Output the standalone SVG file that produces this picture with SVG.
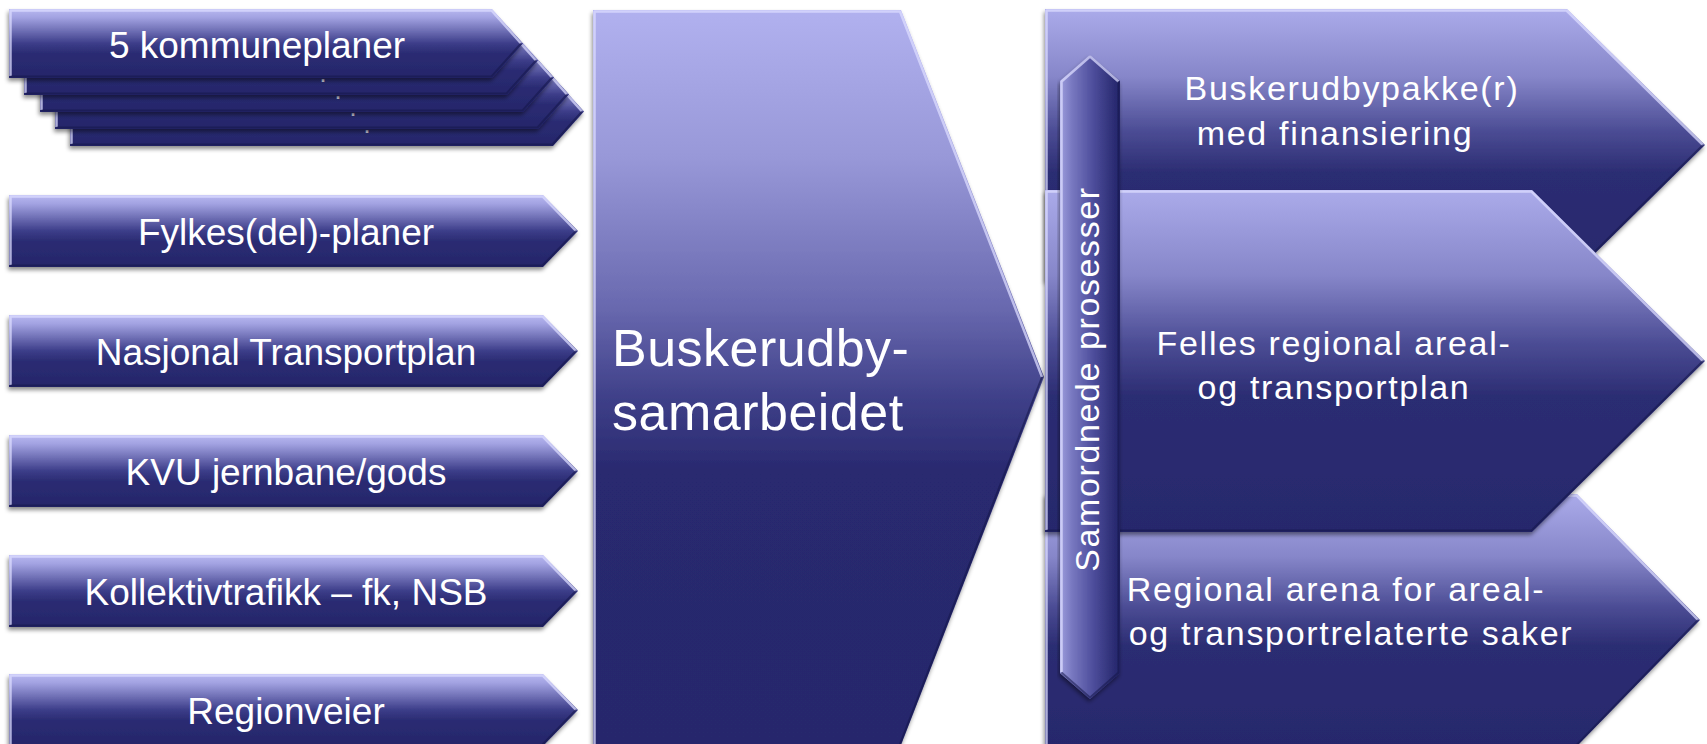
<svg xmlns="http://www.w3.org/2000/svg" width="1707" height="744" viewBox="0 0 1707 744">
<defs>
  <linearGradient id="gS" x1="0" y1="0" x2="0" y2="1">
    <stop offset="0" stop-color="#b8b8f0"/>
    <stop offset="0.12" stop-color="#a3a3e2"/>
    <stop offset="0.5" stop-color="#3c3d89"/>
    <stop offset="0.64" stop-color="#2b2c73"/>
    <stop offset="1" stop-color="#25266a"/>
  </linearGradient>
  <linearGradient id="gB" x1="0" y1="0" x2="0" y2="1">
    <stop offset="0" stop-color="#b1b1ef"/>
    <stop offset="0.2" stop-color="#9898d8"/>
    <stop offset="0.4" stop-color="#6a6ab0"/>
    <stop offset="0.53" stop-color="#3e3f88"/>
    <stop offset="0.63" stop-color="#29296f"/>
    <stop offset="1" stop-color="#27286c"/>
  </linearGradient>
  <linearGradient id="gR" x1="0" y1="0" x2="0" y2="1">
    <stop offset="0" stop-color="#ababea"/>
    <stop offset="0.25" stop-color="#8686c9"/>
    <stop offset="0.45" stop-color="#4b4c94"/>
    <stop offset="0.6" stop-color="#2c2d73"/>
    <stop offset="1" stop-color="#27286c"/>
  </linearGradient>
  <linearGradient id="gV" x1="0" y1="0" x2="1" y2="0">
    <stop offset="0" stop-color="#9c9cdc"/>
    <stop offset="0.2" stop-color="#7878c0"/>
    <stop offset="0.55" stop-color="#4e4e9c"/>
    <stop offset="0.85" stop-color="#303179"/>
    <stop offset="1" stop-color="#24256a"/>
  </linearGradient>
  <filter id="sh" x="-5%" y="-10%" width="110%" height="130%">
    <feDropShadow dx="-1" dy="3" stdDeviation="2.2" flood-color="#000" flood-opacity="0.45"/>
  </filter>
</defs>
<style>
  .t{font-family:"Liberation Sans",Arial,sans-serif;fill:#ffffff}
  .l{font-size:37px;text-anchor:middle}
  .r{font-size:34px;letter-spacing:1.7px;text-anchor:middle}
  .hi{fill:none;stroke:#dcdcff;stroke-width:2.5;stroke-opacity:0.75;stroke-linejoin:round}
  .lo{fill:none;stroke:#141548;stroke-width:2;stroke-opacity:0.55}
  .sa{fill:url(#gS);filter:url(#sh)}
  .ra{fill:url(#gR);filter:url(#sh)}
  .dot{font-family:"Liberation Sans",Arial,sans-serif;font-size:18px;font-weight:bold;fill:#c8c8d8}
</style>
<rect width="1707" height="744" fill="#ffffff"/>

<!-- stacked kommuneplaner -->
<g id="node-kommuneplaner">
  <g id="layer4">
    <polygon class="sa" points="70,77 553,77 584,111.5 553,146 70,146"/>
    <polyline class="hi" points="71.5,144 71.5,78.5 552.5,78.5 582,111.5"/>
    <polyline class="lo" points="582,111.5 552.5,144.5 71.5,144.5"/>
    <text class="dot" x="364.5" y="133.2">.</text>
  </g>
  <g id="layer3">
    <polygon class="sa" points="55,60 538,60 569,94.5 538,129 55,129"/>
    <polyline class="hi" points="56.5,127 56.5,61.5 537.5,61.5 567,94.5"/>
    <polyline class="lo" points="567,94.5 537.5,127.5 56.5,127.5"/>
    <text class="dot" x="350.5" y="116.2">.</text>
  </g>
  <g id="layer2">
    <polygon class="sa" points="40,43 523,43 554,77.5 523,112 40,112"/>
    <polyline class="hi" points="41.5,110 41.5,44.5 522.5,44.5 552,77.5"/>
    <polyline class="lo" points="552,77.5 522.5,110.5 41.5,110.5"/>
    <text class="dot" x="335.5" y="99.2">.</text>
  </g>
  <g id="layer1">
    <polygon class="sa" points="24,26 507,26 538,60.5 507,95 24,95"/>
    <polyline class="hi" points="25.5,93 25.5,27.5 506.5,27.5 536,60.5"/>
    <polyline class="lo" points="536,60.5 506.5,93.5 25.5,93.5"/>
    <text class="dot" x="320.5" y="82.2">.</text>
  </g>
  <g id="layer0">
    <polygon class="sa" points="9,9 492,9 523,43.5 492,78 9,78"/>
    <polyline class="hi" points="10.5,76 10.5,10.5 491.5,10.5 521,43.5"/>
    <polyline class="lo" points="521,43.5 491.5,76.5 10.5,76.5"/>
    <text class="t l" x="257" y="58">5 kommuneplaner</text>
  </g>
</g>

<g id="node-fylkes">
  <polygon class="sa" points="9,195 543,195 578,231 543,267 9,267"/>
  <polyline class="hi" points="10.5,265 10.5,196.5 542.5,196.5 576,231"/>
  <polyline class="lo" points="576,231 542.5,265.5 10.5,265.5"/>
  <text class="t l" x="286" y="245">Fylkes(del)-planer</text>
</g>
<g id="node-ntp">
  <polygon class="sa" points="9,315 543,315 578,351 543,387 9,387"/>
  <polyline class="hi" points="10.5,385 10.5,316.5 542.5,316.5 576,351"/>
  <polyline class="lo" points="576,351 542.5,385.5 10.5,385.5"/>
  <text class="t l" x="286" y="365">Nasjonal Transportplan</text>
</g>
<g id="node-kvu">
  <polygon class="sa" points="9,435 543,435 578,471 543,507 9,507"/>
  <polyline class="hi" points="10.5,505 10.5,436.5 542.5,436.5 576,471"/>
  <polyline class="lo" points="576,471 542.5,505.5 10.5,505.5"/>
  <text class="t l" x="286" y="485">KVU jernbane/gods</text>
</g>
<g id="node-kollektiv">
  <polygon class="sa" points="9,555 543,555 578,591 543,627 9,627"/>
  <polyline class="hi" points="10.5,625 10.5,556.5 542.5,556.5 576,591"/>
  <polyline class="lo" points="576,591 542.5,625.5 10.5,625.5"/>
  <text class="t l" x="286" y="605">Kollektivtrafikk – fk, NSB</text>
</g>
<g id="node-regionveier">
  <polygon class="sa" points="9,674 543,674 578,710 543,746 9,746"/>
  <polyline class="hi" points="10.5,746 10.5,675.5 542.5,675.5 576,710"/>
  <polyline class="lo" points="576,710 542.5,744.5"/>
  <text class="t l" x="286" y="724">Regionveier</text>
</g>

<!-- central -->
<g id="node-buskerudby">
  <polygon fill="url(#gB)" filter="url(#sh)" points="593,10 901,10 1044,377 901,745 593,745"/>
  <polyline class="hi" points="594.5,746 594.5,11.5 900,11.5 1042,377"/>
  <polyline class="lo" points="1042,377 900,744"/>
  <text class="t" x="612" y="366" style="font-size:52px;letter-spacing:0.5px">Buskerudby-</text>
  <text class="t" x="612" y="430" style="font-size:52px;letter-spacing:0.5px">samarbeidet</text>
</g>

<!-- right column -->
<g id="node-pakke">
  <polygon class="ra" points="1045,9 1567,9 1705,145 1567,281 1045,281"/>
  <polyline class="hi" points="1046.5,279 1046.5,10.5 1566.5,10.5 1703,145"/>
  <polyline class="lo" points="1703,145 1566.5,279.5 1046.5,279.5"/>
  <text class="t r" x="1352" y="100">Buskerudbypakke(r)</text>
  <text class="t r" x="1335" y="145">med finansiering</text>
</g>
<g id="node-arena">
  <polygon class="ra" points="1045,494 1577,494 1700,620 1577,746 1045,746"/>
  <polyline class="hi" points="1046.5,746 1046.5,495.5 1576.5,495.5 1698,620"/>
  <polyline class="lo" points="1698,620 1576.5,745"/>
  <text class="t r" x="1336" y="601">Regional arena for areal-</text>
  <text class="t r" x="1351" y="645">og transportrelaterte saker</text>
</g>
<g id="node-plan">
  <polygon class="ra" points="1045,190 1532,190 1705,361 1532,532 1045,532"/>
  <polyline class="hi" points="1046.5,530 1046.5,191.5 1531.5,191.5 1703,361"/>
  <polyline class="lo" points="1703,361 1531.5,530.5 1046.5,530.5"/>
  <text class="t r" x="1334" y="355">Felles regional areal-</text>
  <text class="t r" x="1334" y="399">og transportplan</text>
</g>

<g id="node-samordnede">
  <polygon fill="url(#gV)" filter="url(#sh)" points="1090,55 1120,81 1120,673 1090,699 1060,673 1060,81"/>
  <polyline class="hi" points="1061.5,672 1061.5,81.5 1090,56.5 1118.5,81.5"/>
  <polyline class="lo" points="1118.5,81.5 1118.5,672.5 1090,697.5 1061.5,672.5"/>
  <text class="t" transform="translate(1099,379) rotate(-90)" style="font-size:34px;letter-spacing:1.6px;text-anchor:middle">Samordnede prosesser</text>
</g>

<g id="connectors"></g>
</svg>
